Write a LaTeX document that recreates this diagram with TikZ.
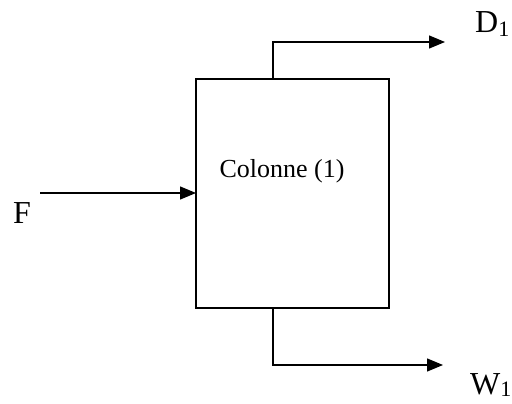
\documentclass[tikz,border=0pt]{standalone}
\usepackage{fontspec}
\setmainfont{Liberation Serif}
\usetikzlibrary{arrows.meta}
\begin{document}
\begin{tikzpicture}[x=1pt,y=-1pt,
  flow/.style={line width=1.4pt,-{Triangle[length=16pt,width=13pt]}},
  stream/.style={font=\fontsize{32}{32}\selectfont,inner sep=0pt,anchor=base west},
  boxstyle/.style={draw,line width=1.4pt,minimum width=193pt,minimum height=229pt,inner sep=0pt}]
\useasboundingbox (0,0) rectangle (512,404);
\node[boxstyle] (col) at (292.5,193.5) {};
\node[font=\fontsize{26}{26}\selectfont,anchor=base,inner sep=0pt] (lab) at (282,177) {Colonne (1)};
\coordinate (fin) at (40,193);
\coordinate (topk) at (273,42);
\coordinate (dout) at (445,42);
\coordinate (botk) at (273,365);
\coordinate (wout) at (443,365);
\coordinate (fen) at (196,193);
\node[stream] (F) at (13,223) {F};
\node[stream] (D) at (475,33) {D\raisebox{-0.12em}{\fontsize{22}{22}\selectfont 1}};
\node[stream] (W) at (470,394) {W\raisebox{-0.08em}{\fontsize{22}{22}\selectfont 1}};
\draw[flow] (fin) -- (fen);
\draw[flow] (col.north -| topk) -- (topk) -- (dout);
\draw[flow] (col.south -| botk) -- (botk) -- (wout);
\end{tikzpicture}
\end{document}
